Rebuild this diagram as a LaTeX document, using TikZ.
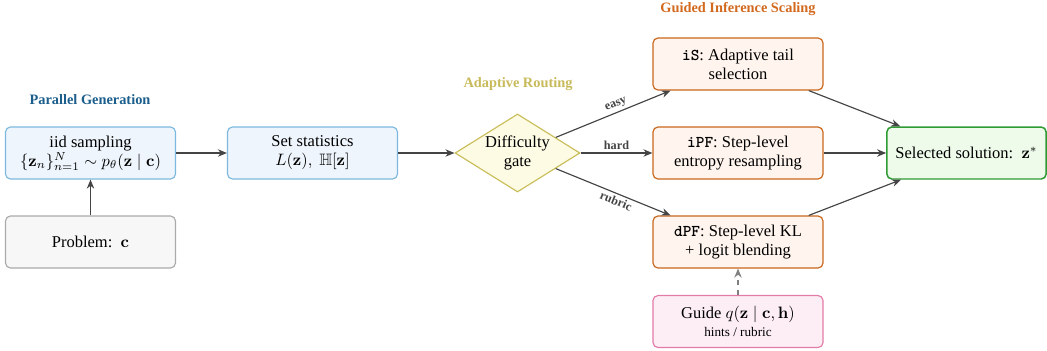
\documentclass[tikz,border=0pt]{standalone}
\usepackage{amsmath,amssymb}
\usepackage[no-math]{fontspec}
\setmainfont{Liberation Serif}
\usetikzlibrary{shapes.geometric,arrows.meta}
\definecolor{blueF}{HTML}{EEF5FC}
\definecolor{blueD}{HTML}{7DB9DE}
\definecolor{blueT}{HTML}{1B5E8C}
\definecolor{grayF}{HTML}{F7F7F7}
\definecolor{grayD}{HTML}{AAAAAA}
\definecolor{yelF}{HTML}{FDFBE4}
\definecolor{yelD}{HTML}{C9BE5A}
\definecolor{yelT}{HTML}{C8BA5A}
\definecolor{orF}{HTML}{FFF5EE}
\definecolor{orD}{HTML}{C8651B}
\definecolor{orT}{HTML}{D2691E}
\definecolor{pkF}{HTML}{FCEEF4}
\definecolor{pkD}{HTML}{E27BA6}
\definecolor{grF}{HTML}{EEFBEA}
\definecolor{grD}{HTML}{2E9B33}
\definecolor{edge}{HTML}{444444}
\tikzset{
  box/.style={draw, rounded corners=3pt, line width=0.7pt, minimum width=103pt, minimum height=31.5pt, align=center, inner sep=2pt, font=\fontsize{10}{11.5}\selectfont},
  bluebox/.style={box, fill=blueF, draw=blueD},
  graybox/.style={box, fill=grayF, draw=grayD},
  orbox/.style={box, fill=orF, draw=orD},
  pkbox/.style={box, fill=pkF, draw=pkD},
  grbox/.style={box, fill=grF, draw=grD, line width=0.9pt},
  gatebox/.style={diamond, draw=yelD, fill=yelF, line width=0.7pt, minimum width=75.7pt, minimum height=47.3pt, aspect=1.6, inner sep=0pt, align=center, font=\fontsize{10}{11.5}\selectfont},
  title/.style={font=\fontsize{8.7}{10}\selectfont\bfseries},
  conn/.style={draw=edge, line width=0.7pt, -{Stealth[length=5.5pt,width=4.5pt]}},
  elabel/.style={font=\fontsize{7.4}{8}\selectfont\bfseries, text=edge, inner sep=1.5pt}
}
\begin{document}
\begin{tikzpicture}[x=0.606pt, y=-0.606pt]
\useasboundingbox (0,0) rectangle (1047,350);
% titles
\node[title, text=blueT] (t1) at (90,100) {Parallel Generation};
\node[title, text=yelT] (t2) at (518,84) {Adaptive Routing};
\node[title, text=orT] (t3) at (738,9) {Guided Inference Scaling};
% nodes
\node[bluebox] (iid) at (90.5,153) {iid sampling\\ $\{\mathbf{z}_n\}_{n=1}^{N} \sim p_\theta(\mathbf{z}\mid\mathbf{c})$};
\node[graybox] (prob) at (90.5,242) {Problem:\ \ $\mathbf{c}$};
\node[bluebox] (stats) at (312.5,153) {Set statistics\\ $L(\mathbf{z}),\ \mathbb{H}[\mathbf{z}]$};
\node[gatebox] (gate) at (517.5,153) {Difficulty\\gate};
\node[orbox] (is) at (738,64) {{\ttfamily\bfseries iS}: Adaptive tail\\selection};
\node[orbox] (ipf) at (738,153) {{\ttfamily\bfseries iPF}: Step-level\\entropy resampling};
\node[orbox] (dpf) at (738,242) {{\ttfamily\bfseries dPF}: Step-level KL\\+ logit blending};
\node[pkbox] (guide) at (738,321.5) {Guide $q(\mathbf{z}\mid\mathbf{c},\mathbf{h})$\\[-1pt]{\fontsize{8}{9}\selectfont hints / rubric}};
\node[grbox, minimum width=96.5pt] (sel) at (966.5,153) {Selected solution:\ \ $\mathbf{z}^*$};
% connectors
\coordinate (isIn) at ([xshift=11pt]is.south west);
\coordinate (dpfIn) at ([xshift=11pt]dpf.north west);
\coordinate (isOut) at ([xshift=-9pt]is.south east);
\coordinate (dpfOut) at ([xshift=-9pt]dpf.north east);
\coordinate (selIn1) at ([xshift=8.5pt]sel.north west);
\coordinate (selIn3) at ([xshift=9pt]sel.south west);
\draw[conn] (prob) -- (iid);
\draw[conn] (iid) -- (stats);
\draw[conn] (stats) -- (gate);
\draw[conn] (gate) -- node[elabel, sloped, above, pos=0.55] {easy} (isIn);
\draw[conn] (gate) -- node[elabel, above, pos=0.5] {hard} (ipf);
\draw[conn] (gate) -- node[elabel, sloped, below, pos=0.55] {rubric} (dpfIn);
\draw[conn] (isOut) -- (selIn1);
\draw[conn] (ipf) -- (sel);
\draw[conn] (dpfOut) -- (selIn3);
\draw[conn, draw=gray, dashed] (guide) -- (dpf);
\end{tikzpicture}
\end{document}
